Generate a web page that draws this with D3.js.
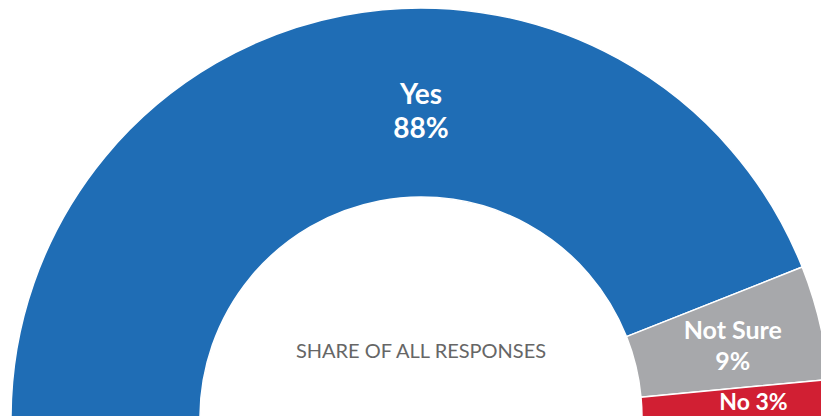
<!DOCTYPE html>
<html>
<head>
<meta charset="utf-8">
<script src="https://cdn.jsdelivr.net/npm/d3@7"></script>
<style>
html,body{margin:0;padding:0;background:#fff;overflow:hidden;}
svg{display:block;}
</style>
</head>
<body>
<svg id="chart" width="821" height="416"></svg>
<script>
const categories = ["Yes", "Not Sure", "No"];
const values = [88, 9, 3];
const colors = ["#1f6db5", "#a7a8ab", "#d11f33"];
const centerTitle = "SHARE OF ALL RESPONSES";

const W = 821, H = 416;
const cx = 421, cy = 418, outerR = 410, innerR = 221;
const svg = d3.select("#chart");
const g = svg.append("g").attr("transform", `translate(${cx},${cy})`);

const pie = d3.pie().sort(null).value(d => d.value)
  .startAngle(-Math.PI / 2).endAngle(Math.PI / 2);
const data = categories.map((c, i) => ({ name: c, value: values[i], color: colors[i] }));
const arcs = pie(data);
const arc = d3.arc().innerRadius(innerR).outerRadius(outerR);

g.selectAll("path.slice").data(arcs).join("path")
  .attr("class", "slice")
  .attr("d", arc)
  .attr("fill", d => d.data.color)
  .attr("stroke", "#fff")
  .attr("stroke-width", 1.5);

const font = "Lato, 'Open Sans', sans-serif";
const midR = (innerR + outerR) / 2;

// Yes label at top of arc
const yes = arcs[0];
const yesG = g.append("g").attr("transform", `translate(0,${-midR})`);
yesG.append("text").attr("text-anchor", "middle").attr("y", 1)
  .attr("font-family", font).attr("font-weight", 700).attr("font-size", 28)
  .attr("fill", "#fff").text(yes.data.name);
yesG.append("text").attr("text-anchor", "middle").attr("y", 35)
  .attr("font-family", font).attr("font-weight", 700).attr("font-size", 28)
  .attr("fill", "#fff").text(yes.data.value + "%");

// Not Sure label
const ns = arcs[1];
const nsA = (ns.startAngle + ns.endAngle) / 2;
const nsX = Math.sin(nsA) * midR, nsY = -Math.cos(nsA) * midR;
g.append("text").attr("text-anchor", "middle")
  .attr("x", nsX + 5).attr("y", nsY - 5)
  .attr("font-family", font).attr("font-weight", 700).attr("font-size", 25)
  .attr("fill", "#fff").text(ns.data.name);
g.append("text").attr("text-anchor", "middle")
  .attr("x", nsX + 5).attr("y", nsY + 26)
  .attr("font-family", font).attr("font-weight", 700).attr("font-size", 25)
  .attr("fill", "#fff").text(ns.data.value + "%");

// No label
const no = arcs[2];
g.append("text").attr("text-anchor", "middle")
  .attr("x", midR + 17).attr("y", -8)
  .attr("font-family", font).attr("font-weight", 700).attr("font-size", 23)
  .attr("fill", "#fff").text(no.data.name + " " + no.data.value + "%");

// center title
g.append("text").attr("text-anchor", "middle").attr("y", -60)
  .attr("font-family", font).attr("font-size", 20)
  .attr("fill", "#666").text(centerTitle);
</script>
</body>
</html>
